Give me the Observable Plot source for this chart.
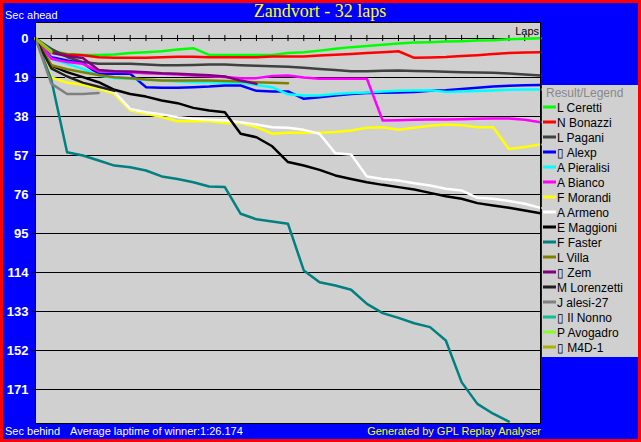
<!DOCTYPE html>
<html><head><meta charset="utf-8">
<script src="https://cdn.jsdelivr.net/npm/d3@7"></script>
<script src="https://cdn.jsdelivr.net/npm/@observablehq/plot@0.6"></script>
<style>
body{margin:0;background:#0000FF}
#wrap{position:relative;width:641px;height:442px;background:#0000FF;overflow:hidden}
#wrap svg{position:absolute;left:0;top:0}
#border{position:absolute;left:0;top:0;width:641px;height:442px;box-sizing:border-box;border:3px solid #FF0000;pointer-events:none}
</style>
</head><body>
<div id="wrap"><div id="border"></div></div>
<script>
const title = "Zandvort - 32 laps";
const yLabelTop = "Sec ahead";
const yLabelBottom = "Sec behind";
const caption = "Average laptime of winner:1:26.174";
const credit = "Generated by GPL Replay Analyser";
const legendTitle = "Result/Legend";
const xLabel = "Laps";
const totalLaps = 32;
const yTicks = [0, 19, 38, 57, 76, 95, 114, 133, 152, 171];
const lapTicks = [1,2,3,4,5,6,7,8,9,10,11,12,13,14,15,16,17,18,19,20,21,22,23,24,25,26,27,28,29,30,31];

const drivers = ["L Ceretti","N Bonazzi","L Pagani","▯ Alexp","A Pieralisi","A Bianco","F Morandi","A Armeno","E Maggioni","F Faster","L Villa","▯ Zem","M Lorenzetti","J alesi-27","▯ Il Nonno","P Avogadro","▯ M4D-1"];
const colors = ["#00FF00","#FF0000","#404040","#0000FF","#00FFFF","#FF00FF","#FFFF00","#FFFFFF","#000000","#008080","#808000","#800080","#202020","#808080","#10C090","#80FF20","#B0B000"];

// seconds behind the reference, per lap (lap 0 .. last completed lap)
const ceretti   = [0,6,7.5,8,8,7.8,7.1,6.7,6.2,5.4,4.7,8,8,8,8,8,7.1,6.7,5.9,5.0,4.2,3.6,3.0,2.4,2.0,1.8,1.5,1.3,1.0,0.8,0.4,0.1,-0.1];
const bonazzi   = [0,6.5,7.8,8.1,9.1,9.4,9.4,9.4,9.1,8.9,8.9,9.1,9.1,9.1,9.1,8.8,8.8,8.8,8.3,7.9,7.5,7.1,6.7,6.2,9.4,9.2,9.0,8.5,8.1,7.6,7.1,6.8,6.7];
const pagani    = [0,5,9,11.5,12.3,12.3,12.3,12.7,13,13,12.9,12.7,12.7,13,13.3,13.5,13.8,14.3,14.8,15.4,15.9,15.9,15.7,15.6,15.8,16.0,16.2,16.4,16.5,16.7,17.0,17.5,18.0];
const alexp     = [0,9.1,10.7,12,17.2,17.2,17.2,23.7,24,24,23.7,23.4,22.9,22.9,25.5,25.8,25.8,29.4,28.6,27.8,27,26.6,26.4,26.3,26,25.4,25.2,24.6,24,23.4,23,22.8,22.6];
const pieralisi = [0,9.9,12.3,14.8,18,19.3,19.6,20.1,20.5,20.9,21.3,21.3,21.6,21.6,22.6,23.7,27.2,27.8,27.8,27,26.6,26.3,25.8,25.5,25.3,25.2,26.0,25.8,25.6,25.3,25.0,24.9,24.8];
const bianco    = [0,9.9,11.5,12.3,15.9,15.9,16.4,16.9,17.2,17.5,18,18.4,18.8,19.3,19.3,18.3,18,19,19.6,19.6,19.6,19.6,40.0,39.8,39.6,39.5,39.5,39.3,39.1,39.0,39.0,39.6,40.8];
const morandi   = [0,19,21.5,22.5,24.5,27,35,36.7,38.3,40.3,40.3,40.3,41.2,41.2,43.2,46.4,45.9,45.9,45.9,45.6,44.8,43.5,43.2,44.5,43.5,42.5,41.9,42.2,43.2,43.2,53.8,52.9,51.6];
const armeno    = [0,14,18.8,21.3,23.7,26.1,34.3,35.9,37,38.3,39.1,39.6,40,40.8,41.9,43.2,43.5,44.5,46.4,55.9,56.5,67.2,68.4,69.2,70.5,71.6,73.2,74,77.6,78.1,79.2,80.5,82.5];
const maggioni  = [0,13.2,16.4,18.8,21.3,25,27,28.3,30.2,31.5,33.8,35.1,35.9,46.4,48.1,52.5,60.2,61.9,64,66.7,68.4,70,71.3,72.4,73.6,75.2,76.8,78.1,80.2,81.4,82.5,83.8,85.1];
const faster    = [0,20,55.4,57,59.4,61.9,62.7,64.3,67.2,68.4,70,72.1,72.4,85.4,88.1,89.2,90.3,113,118.7,120.3,122.4,129.3,133.8,136.1,138.7,140.6,147.1,167.4,178,182.8,186.6];
const villa     = [0,13,15,16.4,17.8,18.9,19.4,20,20.4,20.5,20.5,20.5,20.7,21,21.3,21.6,21.8];
const zem       = [0,7,8.5,9.5,15.3,15.9,16.1,16.4,16.9,17.2,17.5,17.9,18.5,20.5,22.1];
const lorenzetti= [0,14.5,18.5,21.5,23.5,25.5];
const alesi     = [0,22,27,27,26.6];
const ilnonno   = [0,6];
const avogadro  = [0,6.5];
const m4d       = [0,7];

const series = [ceretti,bonazzi,pagani,alexp,pieralisi,bianco,morandi,armeno,maggioni,faster,villa,zem,lorenzetti,alesi,ilnonno,avogadro,m4d];
const rows = drivers.flatMap((name, i) => series[i].map((v, lap) => ({name, lap, v})));

const plot = Plot.plot({
  width: 641, height: 442,
  marginLeft: 35, marginRight: 101, marginTop: 22, marginBottom: 19,
  style: {background: "#0000FF", fontFamily: "Liberation Sans, Arial, sans-serif"},
  x: {domain: [0, totalLaps], axis: null},
  y: {domain: [187.56, -7.8], axis: null},
  color: {domain: drivers, range: colors},
  marks: [
    Plot.frame({fill: "#D0D0D0"}),
    Plot.ruleY(yTicks, {stroke: "#000", strokeWidth: 1}),
    Plot.axisY(yTicks, {anchor: "left", tickSize: 4, tickPadding: 3, stroke: "#000", fill: "#FFF", fontWeight: "bold", fontSize: 13, tickFormat: d => String(d), label: null}),
    Plot.ruleX(lapTicks, {x: d => d, y1: -1.5, y2: 1.5, stroke: "#000", strokeWidth: 1}),
    Plot.line(rows, {x: "lap", y: "v", z: "name", stroke: "name", strokeWidth: 2.5, strokeLinejoin: "round"}),
    Plot.frame({stroke: "#000", strokeWidth: 1})
  ]
});
const wrap = document.getElementById("wrap");
wrap.insertBefore(plot, document.getElementById("border"));

const ov = d3.create("svg").attr("width", 641).attr("height", 442)
  .style("font-family", "Liberation Sans, Arial, sans-serif");
ov.append("text").attr("x", 320).attr("y", 17).attr("text-anchor", "middle")
  .attr("fill", "#FFFF00").style("font-family", "Liberation Serif, Times New Roman, serif").style("font-size", "18px").text(title);
ov.append("text").attr("x", 5).attr("y", 19).attr("fill", "#FFF").style("font-size", "11px").text(yLabelTop);
ov.append("text").attr("x", 539).attr("y", 35).attr("text-anchor", "end").attr("fill", "#000").style("font-size", "11px").text(xLabel);
ov.append("text").attr("x", 5).attr("y", 435).attr("fill", "#FFF").style("font-size", "11px").text(yLabelBottom);
ov.append("text").attr("x", 70).attr("y", 435).attr("fill", "#FFF").style("font-size", "11px").text(caption);
ov.append("text").attr("x", 541).attr("y", 435).attr("text-anchor", "end").attr("fill", "#FFFF00").style("font-size", "11px").text(credit);
const lg = ov.append("g");
lg.append("rect").attr("x", 542).attr("y", 85).attr("width", 96).attr("height", 272).attr("fill", "#D0D0D0");
lg.append("text").attr("x", 546).attr("y", 97).attr("fill", "#888").style("font-size", "12px").text(legendTitle);
drivers.forEach((name, i) => {
  lg.append("line").attr("x1", 543).attr("x2", 556).attr("y1", 107 + 15 * i).attr("y2", 107 + 15 * i)
    .attr("stroke", colors[i]).attr("stroke-width", 3);
  lg.append("text").attr("x", 557).attr("y", 112 + 15 * i).attr("fill", "#000").style("font-size", "12px").text(name);
});
wrap.insertBefore(ov.node(), document.getElementById("border"));
</script>
</body></html>
